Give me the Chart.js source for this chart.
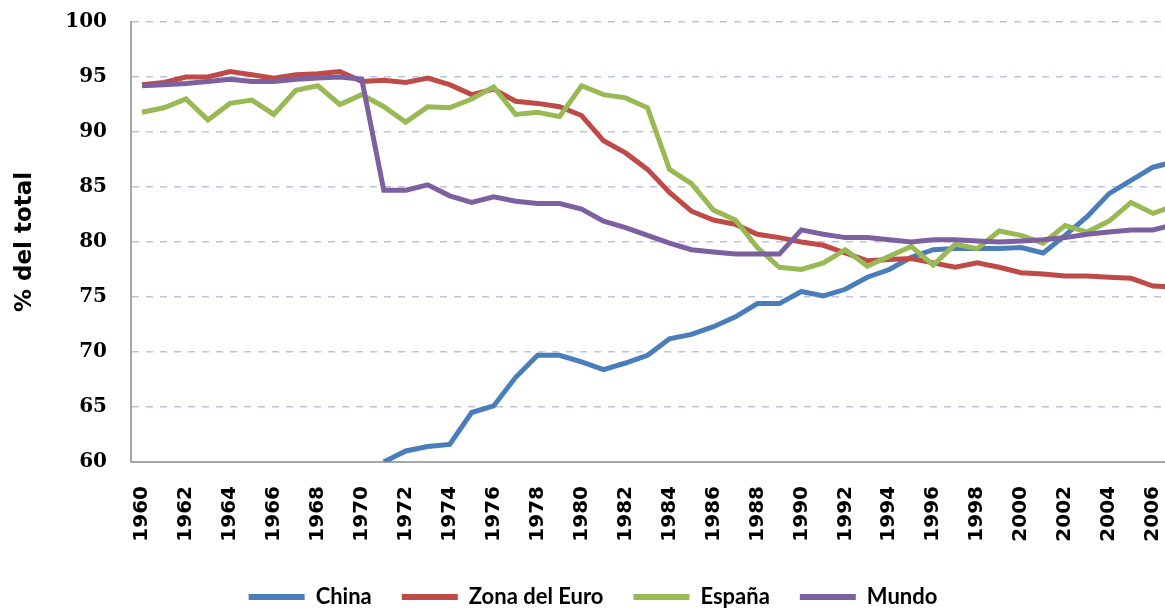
<!DOCTYPE html>
<html lang="es">
<head>
<meta charset="utf-8">
<title>% del total</title>
<script src="https://cdn.jsdelivr.net/npm/chart.js@4.4.1/dist/chart.umd.min.js"></script>
<style>
  html, body { margin: 0; padding: 0; background: #fff; overflow: hidden; }
  #wrap { width: 1190px; height: 610px; position: relative; }
</style>
</head>
<body>
<div id="wrap"><canvas id="chart"></canvas></div>
<script>
const years = [
  "1960", "1961", "1962", "1963", "1964", "1965", "1966", "1967", "1968", "1969",
  "1970", "1971", "1972", "1973", "1974", "1975", "1976", "1977", "1978", "1979",
  "1980", "1981", "1982", "1983", "1984", "1985", "1986", "1987", "1988", "1989",
  "1990", "1991", "1992", "1993", "1994", "1995", "1996", "1997", "1998", "1999",
  "2000", "2001", "2002", "2003", "2004", "2005", "2006", "2007",
];

const china = [
  null, null, null, null, null, null, null, null, null, null,
  null, 60.0, 61.0, 61.4, 61.6, 64.5, 65.1, 67.7, 69.7, 69.7,
  69.1, 68.4, 69.0, 69.7, 71.2, 71.6, 72.3, 73.2, 74.4, 74.4,
  75.5, 75.1, 75.7, 76.8, 77.5, 78.6, 79.3, 79.4, 79.4, 79.4,
  79.5, 79.0, 80.6, 82.3, 84.4, 85.6, 86.8, 87.3,
];

const zonaEuro = [
  94.3, 94.5, 95.0, 95.0, 95.5, 95.2, 94.9, 95.2, 95.3, 95.5,
  94.6, 94.7, 94.5, 94.9, 94.3, 93.4, 93.9, 92.8, 92.6, 92.3,
  91.5, 89.2, 88.1, 86.6, 84.5, 82.8, 82.0, 81.6, 80.7, 80.4,
  80.0, 79.7, 79.0, 78.3, 78.4, 78.5, 78.1, 77.7, 78.1, 77.7,
  77.2, 77.1, 76.9, 76.9, 76.8, 76.7, 76.0, 75.9,
];

const espana = [
  91.8, 92.2, 93.0, 91.1, 92.6, 92.9, 91.6, 93.8, 94.2, 92.5,
  93.4, 92.3, 90.9, 92.3, 92.2, 93.0, 94.1, 91.6, 91.8, 91.4,
  94.2, 93.4, 93.1, 92.2, 86.6, 85.3, 82.9, 82.0, 79.5, 77.7,
  77.5, 78.1, 79.3, 77.8, 78.7, 79.6, 77.9, 79.8, 79.4, 81.0,
  80.6, 79.9, 81.5, 80.9, 81.9, 83.6, 82.6, 83.3,
];

const mundo = [
  94.2, 94.3, 94.4, 94.6, 94.8, 94.6, 94.6, 94.8, 94.9, 95.0,
  94.8, 84.7, 84.7, 85.2, 84.2, 83.6, 84.1, 83.7, 83.5, 83.5,
  83.0, 81.9, 81.3, 80.6, 79.9, 79.3, 79.1, 78.9, 78.9, 78.9,
  81.1, 80.7, 80.4, 80.4, 80.2, 80.0, 80.2, 80.2, 80.1, 80.0,
  80.1, 80.2, 80.4, 80.7, 80.9, 81.1, 81.1, 81.6,
];

const series = [
  { label: "China", data: china, color: "#4a7ebb", order: 4 },
  { label: "Zona del Euro", data: zonaEuro, color: "#be4b48", order: 3 },
  { label: "España", data: espana, color: "#98b954", order: 2 },
  { label: "Mundo", data: mundo, color: "#7d60a0", order: 1 },
];

const axisGray = "#a6a6a6";
const gridColor = "#bcc4e0";

new Chart(document.getElementById("chart"), {
  type: "line",
  data: {
    labels: years,
    datasets: series.map((s) => ({
      label: s.label,
      data: s.data,
      borderColor: s.color,
      backgroundColor: s.color,
      borderWidth: 5,
      pointRadius: 0,
      tension: 0,
      order: s.order,
    })),
  },
  options: {
    responsive: true,
    maintainAspectRatio: false,
    devicePixelRatio: 1,
    animation: false,
    layout: { padding: { top: 22, right: 4, bottom: 0, left: 0 } },
    plugins: {
      tooltip: { enabled: false },
      legend: {
        position: "bottom",
        maxHeight: 54,
        labels: {
          boxWidth: 56,
          boxHeight: 6,
          padding: 30,
          color: "#000",
          font: { family: "Lato, 'Open Sans', sans-serif", size: 22, weight: "bold" },
          sort: (a, b) => a.datasetIndex - b.datasetIndex,
          generateLabels: (chart) =>
            Chart.defaults.plugins.legend.labels.generateLabels(chart).map((item) => ({
              ...item,
              lineWidth: 0,
            })),
        },
      },
    },
    scales: {
      x: {
        offset: true,
        grid: { display: false, drawTicks: false },
        border: { display: true, color: axisGray, width: 2 },
        ticks: {
          autoSkip: false,
          maxRotation: 90,
          minRotation: 90,
          padding: 24,
          color: "#000",
          font: { family: "'DejaVu Sans', Verdana, sans-serif", size: 20, weight: "bold" },
          callback: (value, index) => (index % 2 === 0 ? years[index] : ""),
        },
        afterFit: (scale) => {
          scale.height = 94;
          scale.paddingLeft = 0;
          scale.paddingRight = 0;
        },
      },
      y: {
        min: 60,
        max: 100,
        grid: { color: gridColor, lineWidth: 1.5, drawTicks: false },
        border: { display: true, color: axisGray, width: 2, dash: [7, 7] },
        ticks: {
          stepSize: 5,
          padding: 24,
          color: "#000",
          font: { family: "'DejaVu Serif', serif", size: 20, weight: "bold" },
        },
        title: {
          display: true,
          text: "% del total",
          color: "#000",
          padding: { top: 11, bottom: 0 },
          font: { family: "'DejaVu Sans', Verdana, sans-serif", size: 23, weight: "bold" },
        },
        afterFit: (scale) => {
          scale.width = 131;
          scale.paddingTop = 0;
          scale.paddingBottom = 0;
        },
      },
    },
  },
});
</script>
</body>
</html>
